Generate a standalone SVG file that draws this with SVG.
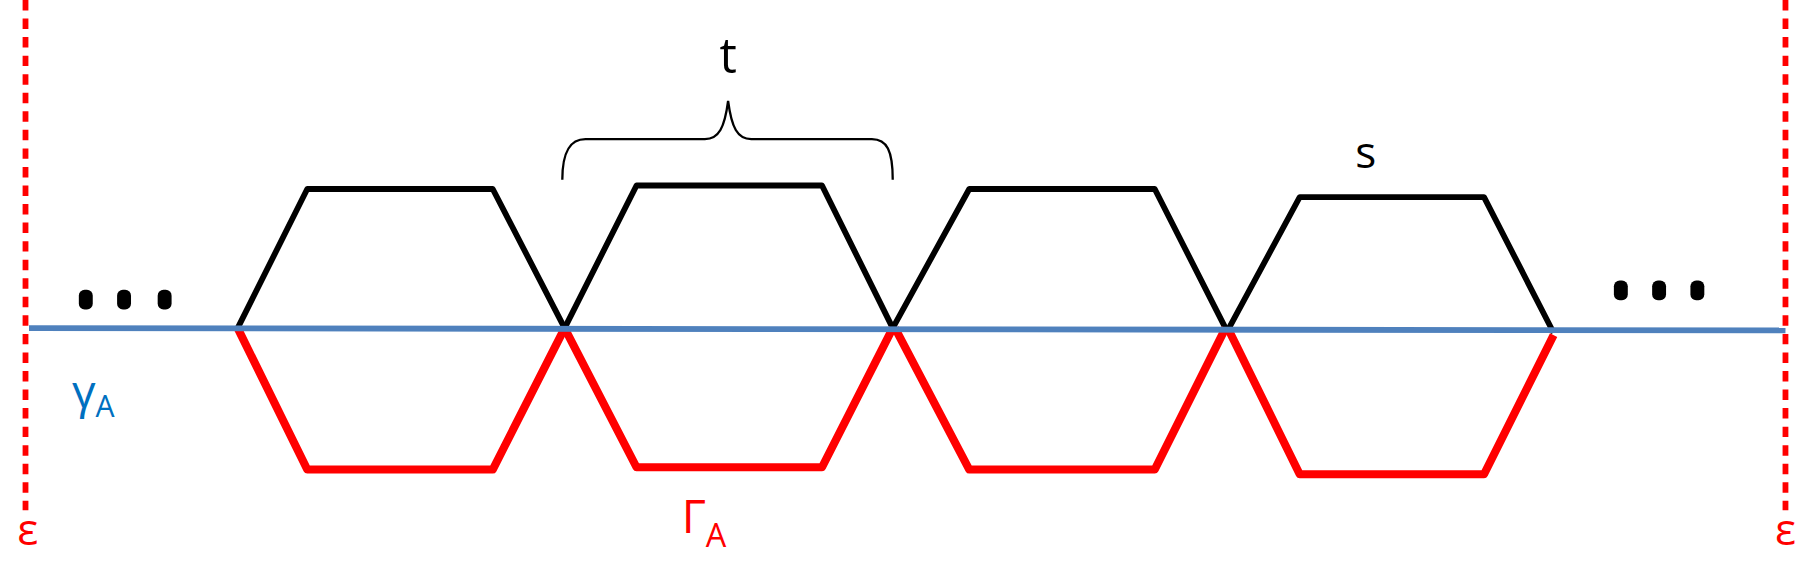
<svg xmlns="http://www.w3.org/2000/svg" width="1818" height="561" viewBox="0 0 1818 561">
<style>
.top{fill:none;stroke:#000;stroke-width:5;stroke-linejoin:round}
.bot{fill:none;stroke:#f00;stroke-width:7;stroke-linejoin:round}
.eps{stroke:#f00;stroke-width:5;stroke-dasharray:9 7}
.lbl{font-family:"Open Sans","DejaVu Sans",sans-serif}
</style>
<rect width="1818" height="561" fill="#fff"/>
<g transform="scale(1.1594)">
<g id="boundaries">
<line class="eps" x1="22" y1="0" x2="22" y2="440"/>
<line class="eps" x1="1540" y1="0" x2="1540" y2="440"/>
<text class="lbl" x="24" y="470" font-size="38" fill="#f00" text-anchor="middle">ε</text>
<text class="lbl" x="1540" y="470" font-size="38" fill="#f00" text-anchor="middle">ε</text>
</g>
<g id="connectors">
<g id="hex1"><polyline class="top" points="205,283 265,163 425,163 487,283"/><polyline class="bot" points="205,283 265,405 425,405 487,283"/></g>
<g id="hex2"><polyline class="top" points="487,283 549,160 709,160 770,283"/><polyline class="bot" points="487,283 549,403 709,403 770,283"/></g>
<g id="hex3"><polyline class="top" points="770,283 836,163 996,163 1057,283"/><polyline class="bot" points="772,283 836,405 996,405 1057,283"/></g>
<g id="hex4"><polyline class="top" points="1060,283 1121,170 1280,170 1340,287"/><polyline class="bot" points="1060,285 1121,409 1280,409 1340,289"/></g>
<line id="gammaA" x1="25" y1="283" x2="1540" y2="285" stroke="#4f81bd" stroke-width="5"/>
<path id="brace" d="M485,155 C485,130 492,120 505,120 L608,120 C620,120 625,110 628,87 C631,110 636,120 648,120 L752,120 C765,120 770,130 770,155" fill="none" stroke="#000" stroke-width="2"/>
</g>
<g id="labels">
<text class="lbl" x="628" y="63" font-size="42" text-anchor="middle">t</text>
<text class="lbl" x="1178" y="145" font-size="38" text-anchor="middle">s</text>
<text class="lbl" x="62" y="352" font-size="40" fill="#0070c0">γ<tspan font-size="26" dy="8">A</tspan></text>
<text class="lbl" x="588" y="460" font-size="40" fill="#f00">Γ<tspan font-size="28" dy="12">A</tspan></text>
<g fill="#000"><rect x="68" y="250" width="12" height="17" rx="5"/><rect x="101" y="250" width="12" height="17" rx="5"/><rect x="136" y="250" width="12" height="17" rx="5"/>
<rect x="1392" y="242" width="12" height="17" rx="5"/><rect x="1425" y="242" width="12" height="17" rx="5"/><rect x="1458" y="242" width="12" height="17" rx="5"/></g>
</g>
</g>
</svg>
